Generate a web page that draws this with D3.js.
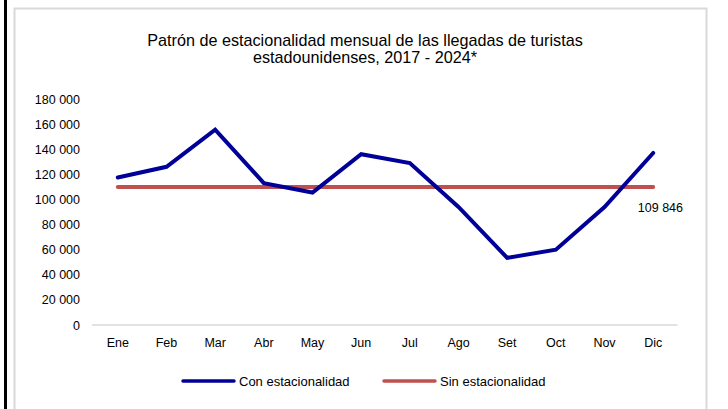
<!DOCTYPE html>
<html>
<head>
<meta charset="utf-8">
<script src="https://cdn.jsdelivr.net/npm/d3@7"></script>
<style>
  body { margin: 0; background: #fff; }
  text { font-family: "Liberation Sans", Arial, sans-serif; fill: #000; }
</style>
</head>
<body>
<div id="chart"></div>
<script>
const months = ["Ene", "Feb", "Mar", "Abr", "May", "Jun", "Jul", "Ago", "Set", "Oct", "Nov", "Dic"];
const withSeason = [117500, 126000, 155500, 113000, 105500, 136000, 129000, 94000, 53500, 60000, 94000, 137000];
const flatValue = 109846;
const yTicks = [0, 20000, 40000, 60000, 80000, 100000, 120000, 140000, 160000, 180000];
const titleLines = ["Patrón de estacionalidad mensual de las llegadas de turistas", "estadounidenses, 2017 - 2024*"];
const legendNames = ["Con estacionalidad", "Sin estacionalidad"];

const W = 728, H = 409;
const svg = d3.select("#chart").append("svg").attr("width", W).attr("height", H);

// frame
svg.append("rect").attr("x", 4).attr("y", 0).attr("width", 3).attr("height", H).attr("fill", "#000");
svg.append("path").attr("d", `M14.5,${H} V8.5 H706.5 V${H}`)
  .attr("fill", "none").attr("stroke", "#d9d9d9").attr("stroke-width", 2);

// title
svg.append("g").selectAll("text").data(titleLines).enter().append("text")
  .attr("x", 365).attr("y", (d, i) => 46 + i * 17)
  .attr("text-anchor", "middle").attr("font-size", 16.2).text(d => d);

const x = d3.scaleBand().domain(months).range([93.5, 677.5]);
const y = d3.scaleLinear().domain([0, 180000]).range([325, 99]);
const fmt = v => d3.format(",")(v).replace(/,/g, " ");

// y axis labels
svg.append("g").selectAll("text").data(yTicks).enter().append("text")
  .attr("x", 80).attr("y", d => y(d) + 4.5)
  .attr("text-anchor", "end").attr("font-size", 12.5).text(fmt);

// baseline
svg.append("line").attr("x1", 92).attr("x2", 677.5)
  .attr("y1", y(0)).attr("y2", y(0)).attr("stroke", "#d9d9d9").attr("stroke-width", 1.5);

// x labels
svg.append("g").selectAll("text").data(months).enter().append("text")
  .attr("x", d => x(d) + x.bandwidth() / 2).attr("y", 347)
  .attr("text-anchor", "middle").attr("font-size", 12.5).text(d => d);

const cx = d => x(d) + x.bandwidth() / 2;

// flat line
svg.append("path")
  .datum(months)
  .attr("d", d3.line().x(cx).y(() => y(flatValue)))
  .attr("fill", "none").attr("stroke", "#c0504d").attr("stroke-width", 4).attr("stroke-linecap", "round");

// seasonal line
svg.append("path")
  .datum(withSeason)
  .attr("d", d3.line().x((d, i) => cx(months[i])).y(d => y(d)))
  .attr("fill", "none").attr("stroke", "#000099").attr("stroke-width", 4)
  .attr("stroke-linecap", "round").attr("stroke-linejoin", "miter");

// value label
svg.append("text").attr("x", 683).attr("y", y(flatValue) + 25)
  .attr("text-anchor", "end").attr("font-size", 12.5).text(fmt(flatValue));

// legend
const legendColors = ["#000099", "#c0504d"];
const lg = svg.append("g").selectAll("g").data(legendNames).enter().append("g")
  .attr("transform", (d, i) => `translate(${[183, 384][i]},381)`);
lg.append("line").attr("x1", 0).attr("x2", 51).attr("y1", 0).attr("y2", 0)
  .attr("stroke", (d, i) => legendColors[i]).attr("stroke-width", 3.5).attr("stroke-linecap", "round");
lg.append("text").attr("x", 56).attr("y", 4.5).attr("font-size", 13).text(d => d);
</script>
</body>
</html>
